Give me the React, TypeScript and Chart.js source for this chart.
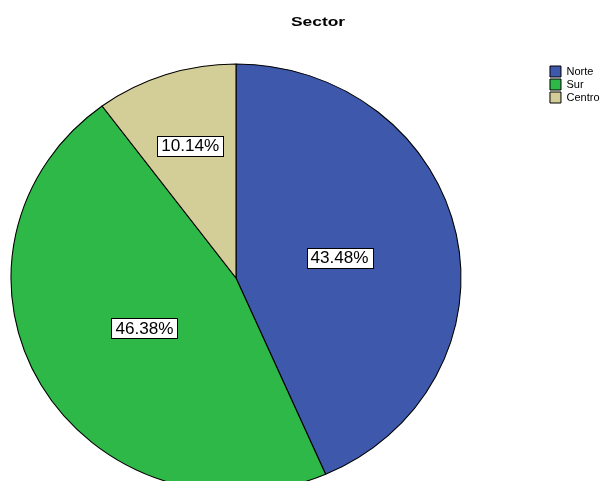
import React, { useEffect, useRef } from "react";
import { Chart, registerables } from "chart.js";

Chart.register(...registerables);

// ---- data ----
const chartTitle = "Sector";
const categories = ["Norte", "Sur", "Centro"];
const counts = [30, 32, 7];
const sliceColors = ["#3E58AC", "#2EB848", "#D3CE97"];

const FONT = "Arial, 'Liberation Sans', Helvetica, sans-serif";

export default function App() {
  const ref = useRef<HTMLCanvasElement | null>(null);

  useEffect(() => {
    if (!ref.current) return;
    const total = counts.reduce((a, b) => a + b, 0);
    // layout of the (slightly elliptical) pie
    const geom = { cx: 236, cy: 278, rx: 225, ry: 214 };
    const labelFrac = [0.47, 0.47, 0.65];

    const piePlugin = {
      id: "ellipsePie",
      beforeDatasetsDraw(chart: any) {
        const arc = chart.getDatasetMeta(0).data[0];
        const { x, y, outerRadius } = arc.getProps(["x", "y", "outerRadius"], true);
        const ctx = chart.ctx;
        ctx.save();
        ctx.translate(geom.cx, geom.cy);
        ctx.scale(geom.rx / outerRadius, geom.ry / outerRadius);
        ctx.translate(-x, -y);
      },
      afterDatasetsDraw(chart: any) {
        const ctx = chart.ctx;
        ctx.restore();
        const meta = chart.getDatasetMeta(0);
        meta.data.forEach((arc: any, i: number) => {
          const { startAngle, endAngle } = arc.getProps(["startAngle", "endAngle"], true);
          const mid = (startAngle + endAngle) / 2;
          const px = geom.cx + Math.cos(mid) * geom.rx * labelFrac[i];
          const py = geom.cy + Math.sin(mid) * geom.ry * labelFrac[i];
          const text = ((counts[i] / total) * 100).toFixed(2) + "%";
          ctx.save();
          ctx.font = `16px ${FONT}`;
          const sx = 1.07;
          const w = ctx.measureText(text).width * sx;
          const bw = Math.round(w + 8);
          const bh = 20;
          const bx = Math.round(px - bw / 2) + 0.5;
          const by = Math.round(py - bh / 2) + 0.5;
          ctx.fillStyle = "#ffffff";
          ctx.fillRect(bx, by, bw, bh);
          ctx.strokeStyle = "#000000";
          ctx.lineWidth = 1;
          ctx.strokeRect(bx, by, bw, bh);
          ctx.translate(px, py + 1);
          ctx.scale(sx, 1);
          ctx.fillStyle = "#000000";
          ctx.textAlign = "center";
          ctx.textBaseline = "middle";
          ctx.fillText(text, 0, 0);
          ctx.restore();
        });
      },
      afterDraw(chart: any) {
        const ctx = chart.ctx;
        ctx.save();
        ctx.font = `bold 12px ${FONT}`;
        ctx.fillStyle = "#000000";
        ctx.textAlign = "center";
        ctx.textBaseline = "middle";
        ctx.translate(318, 23);
        ctx.scale(1.45, 1);
        ctx.fillText(chartTitle, 0, 0);
        ctx.restore();
      },
    };

    const chart = new Chart(ref.current, {
      type: "pie",
      data: {
        labels: categories,
        datasets: [
          {
            data: counts,
            backgroundColor: sliceColors,
            borderColor: "#000000",
            borderWidth: 1,
            clip: false,
          } as any,
        ],
      },
      options: {
        responsive: false,
        animation: false,
        layout: { padding: { top: 64, right: -3.5, left: 0, bottom: 0 } },
        plugins: {
          legend: {
            position: "right",
            align: "start",
            labels: {
              boxWidth: 11,
              boxHeight: 11,
              padding: 2,
              color: "#000000",
              font: { family: FONT, size: 11 },
            },
          },
          title: { display: false },
          tooltip: { enabled: false },
        },
      },
      plugins: [piePlugin],
    });

    return () => chart.destroy();
  }, []);

  return (
    <div style={{ position: "absolute", left: 0, top: 0, width: 606, height: 481, background: "#ffffff" }}>
      <canvas ref={ref} width={606} height={481} />
    </div>
  );
}
